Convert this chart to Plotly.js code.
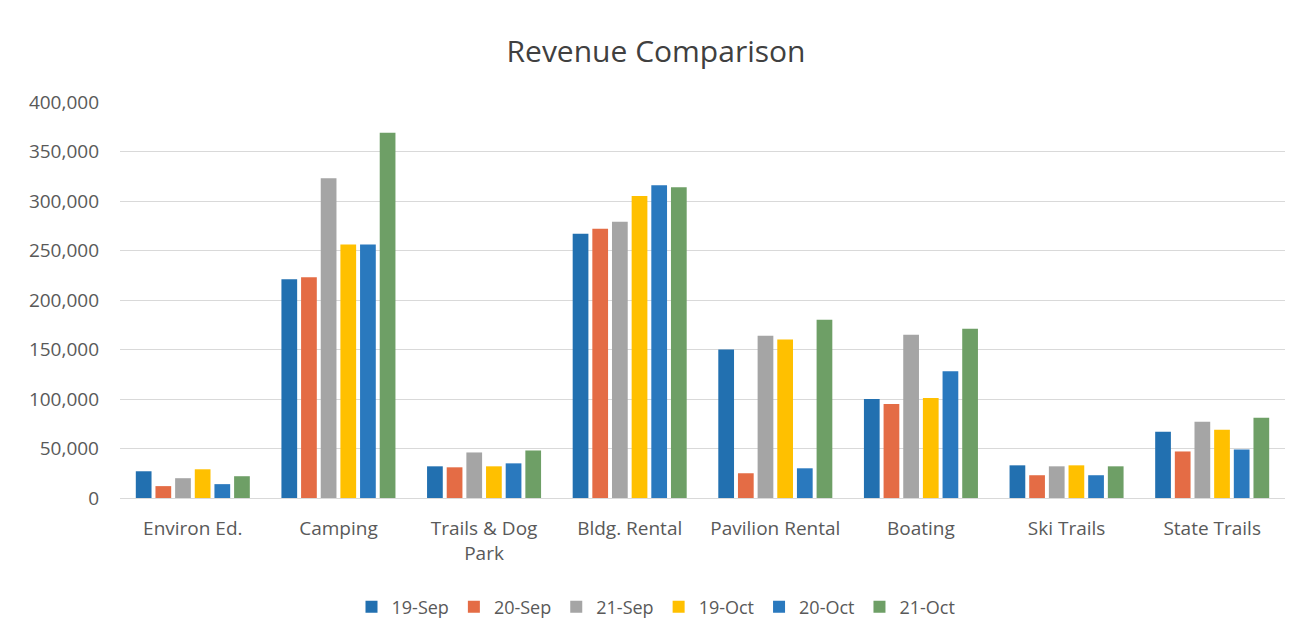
<!DOCTYPE html>
<html>
<head>
<meta charset="utf-8">
<script src="https://cdn.plot.ly/plotly-3.0.1.min.js"></script>
<style>html,body{margin:0;padding:0;background:#fff;}#chart{width:1312px;height:640px;}</style>
</head>
<body>
<div id="chart"></div>
<script>
const categories = ["Environ Ed.", "Camping", "Trails & Dog<br>Park", "Bldg. Rental", "Pavilion Rental", "Boating", "Ski Trails", "State Trails"];
const seriesNames = ["19-Sep", "20-Sep", "21-Sep", "19-Oct", "20-Oct", "21-Oct"];
const sep19 = [27000, 221000, 32000, 267000, 150000, 100000, 33000, 67000];
const sep20 = [12000, 223000, 31000, 272000, 25000, 95000, 23000, 47000];
const sep21 = [20000, 323000, 46000, 279000, 164000, 165000, 32000, 77000];
const oct19 = [29000, 256000, 32000, 305000, 160000, 101000, 33000, 69000];
const oct20 = [14000, 256000, 35000, 316000, 30000, 128000, 23000, 49000];
const oct21 = [22000, 369000, 48000, 314000, 180000, 171000, 32000, 81000];
const colors = ["#2270B0", "#E46C45", "#A5A5A5", "#FFC000", "#2A79BE", "#6E9F66"];

const allSeries = [sep19, sep20, sep21, oct19, oct20, oct21];
const traces = allSeries.map((vals, i) => ({
  type: "bar",
  name: seriesNames[i],
  x: categories,
  y: vals,
  marker: {color: colors[i]},
  hoverinfo: "x+y+name"
}));

const layout = {
  width: 1312, height: 640,
  paper_bgcolor: "#ffffff", plot_bgcolor: "#ffffff",
  margin: {l: 120, r: 27, t: 102, b: 142},
  font: {family: "Open Sans, Noto Sans, sans-serif", color: "#595959", size: 18},
  title: {text: "Revenue Comparison", x: 0.5, xanchor: "center", y: 1 - 51/640, yanchor: "middle", yref: "container",
          font: {size: 30, color: "#404040", family: "Open Sans, Noto Sans, sans-serif"}},
  barmode: "group",
  bargap: 0.19,
  bargroupgap: 0.2,
  xaxis: {showgrid: false, showline: false, zeroline: false, ticks: "", ticklabelstandoff: 17,
          tickfont: {size: 19, color: "#595959"}},
  yaxis: {range: [0, 400000], dtick: 50000, tickformat: ",d", showgrid: true, gridcolor: "#D9D9D9", gridwidth: 1,
          zeroline: true, zerolinecolor: "#D9D9D9", zerolinewidth: 1, showline: false, ticks: "",
          ticklabelstandoff: 20, tickfont: {size: 19, color: "#595959"}},
  legend: {orientation: "h", x: 0.5, xanchor: "center", xref: "container", y: 1 - 607/640, yanchor: "middle", yref: "container",
           font: {size: 18, color: "#595959"}, itemwidth: 30, traceorder: "normal"},
  showlegend: true
};

Plotly.newPlot("chart", traces, layout, {displayModeBar: false, staticPlot: true});
</script>
</body>
</html>
